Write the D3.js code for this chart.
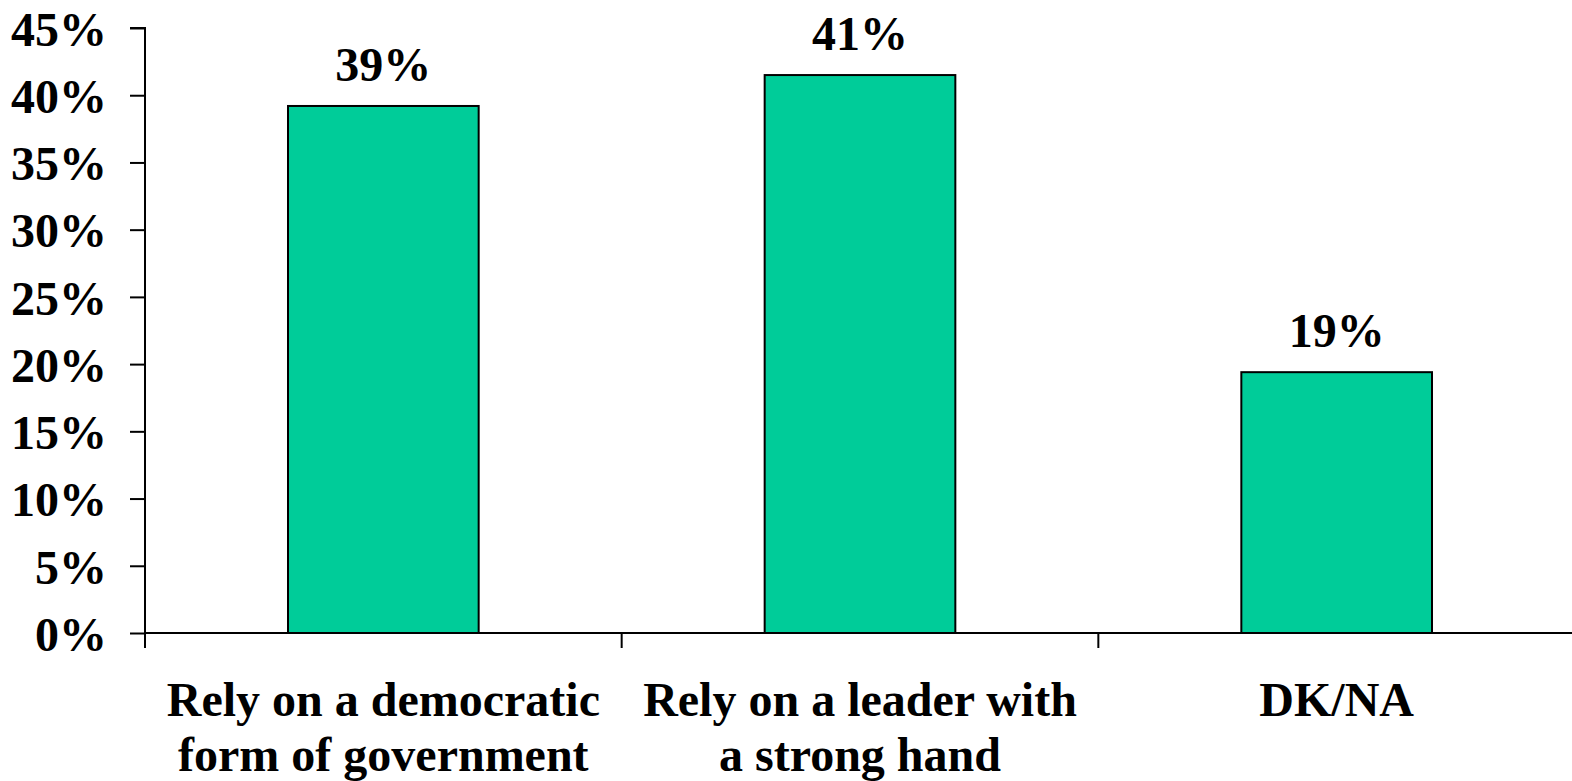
<!DOCTYPE html>
<html><head><meta charset="utf-8">
<script src="https://cdn.jsdelivr.net/npm/d3@7"></script>
<style>
body{margin:0;background:#fff;}
svg text{font-family:"Liberation Serif","Times New Roman",serif;font-weight:bold;fill:#000;}
</style></head>
<body><svg id="c" width="1572" height="781"></svg>
<script>
const categories = [["Rely on a democratic","form of government"],["Rely on a leader with","a strong hand"],["DK/NA"]];
const values = [39.2, 41.5, 19.4];
const valueLabels = ["39%","41%","19%"];
const yTicks = [0,5,10,15,20,25,30,35,40,45];

const svg = d3.select("#c");
const x0 = 145, x1 = 1575, yTop = 28, yBot = 633;
const FS = "48px";
const x = d3.scaleBand().domain(d3.range(categories.length)).range([x0, x1]).paddingInner(0.6).paddingOuter(0.3);
const y = d3.scaleLinear().domain([0,45]).range([yBot, yTop]);

// bars
svg.selectAll("rect.bar").data(values).enter().append("rect")
  .attr("x",(d,i)=>x(i)).attr("width",x.bandwidth())
  .attr("y",d=>y(d)).attr("height",d=>y(0)-y(d))
  .attr("fill","#00CC99").attr("stroke","#000").attr("stroke-width",2);

// y axis
const yAxis = d3.axisLeft(y).tickValues(yTicks).tickFormat(d=>d+"%").tickSize(15).tickPadding(23);
const gy = svg.append("g").attr("transform",`translate(${x0},0)`).call(yAxis);
gy.select(".domain").attr("stroke","#000").attr("stroke-width",2).attr("d",`M-15,${yTop}H0V${yBot}`);
gy.selectAll(".tick line").attr("stroke","#000").attr("stroke-width",2);
gy.selectAll(".tick text").style("font-size",FS).attr("dy","0.36em");

// x axis
const xb = d3.scaleLinear().domain([0,categories.length]).range([x0, x0 + (x.step())*categories.length]);
svg.append("line").attr("x1",x0).attr("x2",1572).attr("y1",yBot).attr("y2",yBot).attr("stroke","#000").attr("stroke-width",2);
svg.selectAll("line.xt").data(d3.range(categories.length)).enter().append("line")
  .attr("x1",d=>xb(d)).attr("x2",d=>xb(d)).attr("y1",yBot).attr("y2",yBot+15)
  .attr("stroke","#000").attr("stroke-width",2);

// category labels
svg.selectAll("text.cat").data(categories).enter().append("text")
  .attr("text-anchor","middle").style("font-size",FS)
  .attr("transform",(d,i)=>`translate(${x(i)+x.bandwidth()/2},716)`)
  .each(function(d){
    d3.select(this).selectAll("tspan").data(d).enter().append("tspan")
      .attr("x",0).attr("y",(t,j)=>j*55).text(t=>t);
  });

// value labels
svg.selectAll("text.val").data(values).enter().append("text")
  .attr("text-anchor","middle").style("font-size",FS)
  .attr("x",(d,i)=>x(i)+x.bandwidth()/2).attr("y",d=>y(d)-25)
  .text((d,i)=>valueLabels[i]);
</script></body></html>
